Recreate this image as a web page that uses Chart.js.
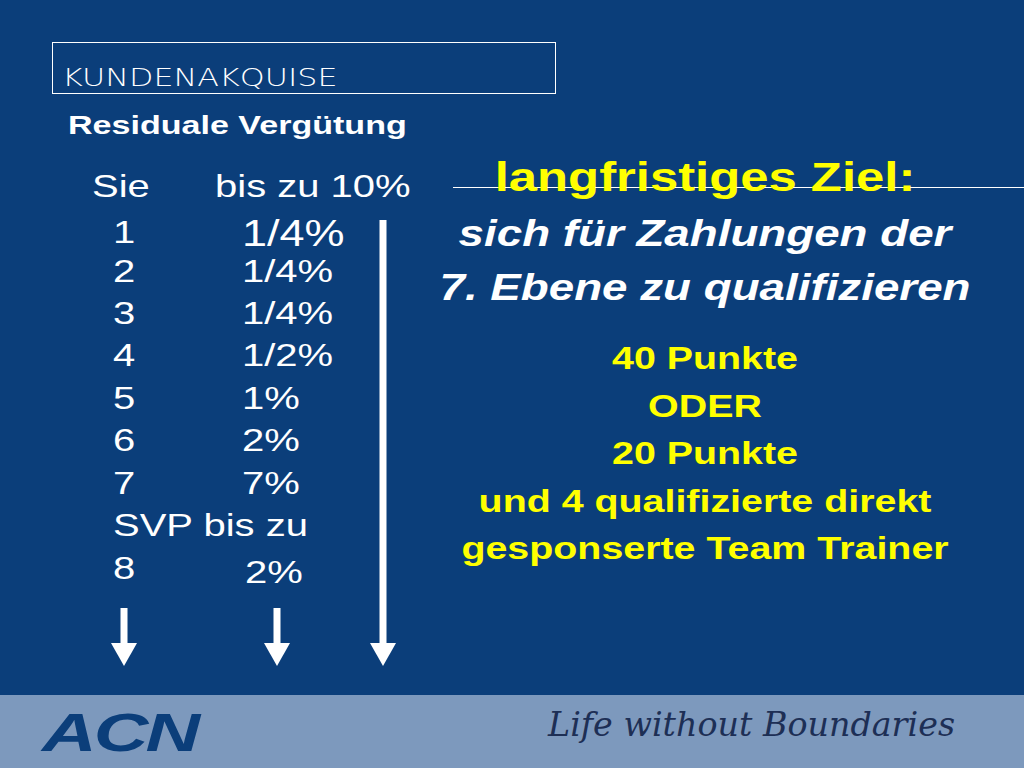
<!DOCTYPE html>
<html><head><meta charset="utf-8">
<script src="https://cdn.jsdelivr.net/npm/chart.js@4"></script>
<style>
body{margin:0;width:1024px;height:768px;background:#0b3e7a;overflow:hidden;font-family:"Liberation Sans",Arial,sans-serif;color:#fff;position:relative}
.t{position:absolute;white-space:nowrap;line-height:1;transform-origin:0 0;transform:scaleX(1.25)}
.c{transform-origin:50% 0;transform:translateX(-50%) scaleX(1.27)}
#box{position:absolute;left:52px;top:42px;width:502px;height:50px;border:1px solid #fff}
#band{position:absolute;left:0;top:695px;width:1024px;height:73px;background:#7d99bd}
#cv{position:absolute;left:0;top:0}
.y{color:#ffff00;font-weight:bold;font-size:31px}
</style></head><body>
<div id="box"></div>
<div class="t" style="left:62px;top:65px;font-size:25px;font-family:'DejaVu Sans';font-weight:200;transform:scaleX(1.27)">KUNDENAKQUISE</div>
<div class="t" style="left:68px;top:112px;font-size:26px;font-weight:bold;transform:scaleX(1.31)">Residuale Vergütung</div>
<div class="t" style="left:92px;top:170px;font-size:32px">Sie</div>
<div class="t" style="left:215px;top:170px;font-size:32px">bis zu 10%</div>
<div id="rows"></div>
<div style="position:absolute;left:453px;top:187px;width:571px;height:1px;background:#fff"></div>
<div class="t c y" style="left:705px;top:157px;font-size:40px">langfristiges Ziel:</div>
<div class="t c" style="left:705px;top:216px;font-size:36px;font-weight:bold;font-style:italic">sich für Zahlungen der</div>
<div class="t c" style="left:705px;top:270px;font-size:36px;font-weight:bold;font-style:italic">7. Ebene zu qualifizieren</div>
<div id="goal"></div>
<div id="band">
 <div class="t" style="left:42px;top:10px;font-size:54px;font-weight:bold;font-style:italic;color:#0b3e7a;letter-spacing:-2px;transform:scaleX(1.4)">ACN</div>
 <div class="t" style="left:548px;top:12px;font-size:34px;font-style:italic;font-family:'DejaVu Serif';color:#1d2f55;transform:scaleX(0.98)">Life without Boundaries</div>
</div>
<canvas id="cv" width="1024" height="768"></canvas>
<script>
// levels and payout percentages
var levels = ['1', '2', '3', '4', '5', '6', '7', 'SVP bis zu', '8'];
var percents = ['1/4%', '1/4%', '1/4%', '1/2%', '1%', '2%', '7%', '', '2%'];
var rowTops = [216, 255, 297, 339, 382, 424, 467, 509, 552];
var goalLines = ['40 Punkte', 'ODER', '20 Punkte', 'und 4 qualifizierte direkt', 'gesponserte Team Trainer'];

var rows = document.getElementById('rows');
levels.forEach(function(l, i) {
  rows.innerHTML += '<div class="t" style="left:113px;top:' + rowTops[i] + 'px;font-size:32px">' + l + '</div>';
  if (percents[i]) rows.innerHTML += '<div class="t" style="left:' + (i == 8 ? 245 : 242) + 'px;top:' + (rowTops[i] + (i == 8 ? 4 : 0)) + 'px;font-size:' + (i == 0 ? 36 : 32) + 'px">' + percents[i] + '</div>';
});
var goal = document.getElementById('goal');
goalLines.forEach(function(g, i) {
  goal.innerHTML += '<div class="t c y" style="left:705px;top:' + (343 + i * 47.5) + 'px">' + g + '</div>';
});

// arrows drawn as line segments on a hidden scale
var arrows = [[124, 608, 645], [277, 608, 645], [383, 220, 645]];
var ctx = document.getElementById('cv').getContext('2d');
new Chart(ctx, {
  type: 'scatter',
  data: {
    datasets: arrows.map(function(a) {
      return {data: [{x: a[0], y: a[1]}, {x: a[0], y: a[2]}], showLine: true, borderColor: '#fff', borderWidth: 7, pointRadius: 0};
    })
  },
  options: {
    responsive: false, animation: false, layout: {padding: 0},
    plugins: {legend: {display: false}, tooltip: {enabled: false}},
    scales: {x: {display: false, min: 0, max: 1024}, y: {display: false, min: 0, max: 768, reverse: true}}
  },
  plugins: [{
    id: 'heads',
    afterDatasetsDraw: function(chart) {
      var c = chart.ctx, xs = chart.scales.x, ys = chart.scales.y;
      c.fillStyle = '#fff';
      arrows.forEach(function(a) {
        var x = xs.getPixelForValue(a[0]), y = ys.getPixelForValue(a[2]);
        c.beginPath(); c.moveTo(x - 13, y - 2); c.lineTo(x + 13, y - 2); c.lineTo(x, y + 21); c.closePath(); c.fill();
      });
    }
  }]
});
</script>
</body></html>
